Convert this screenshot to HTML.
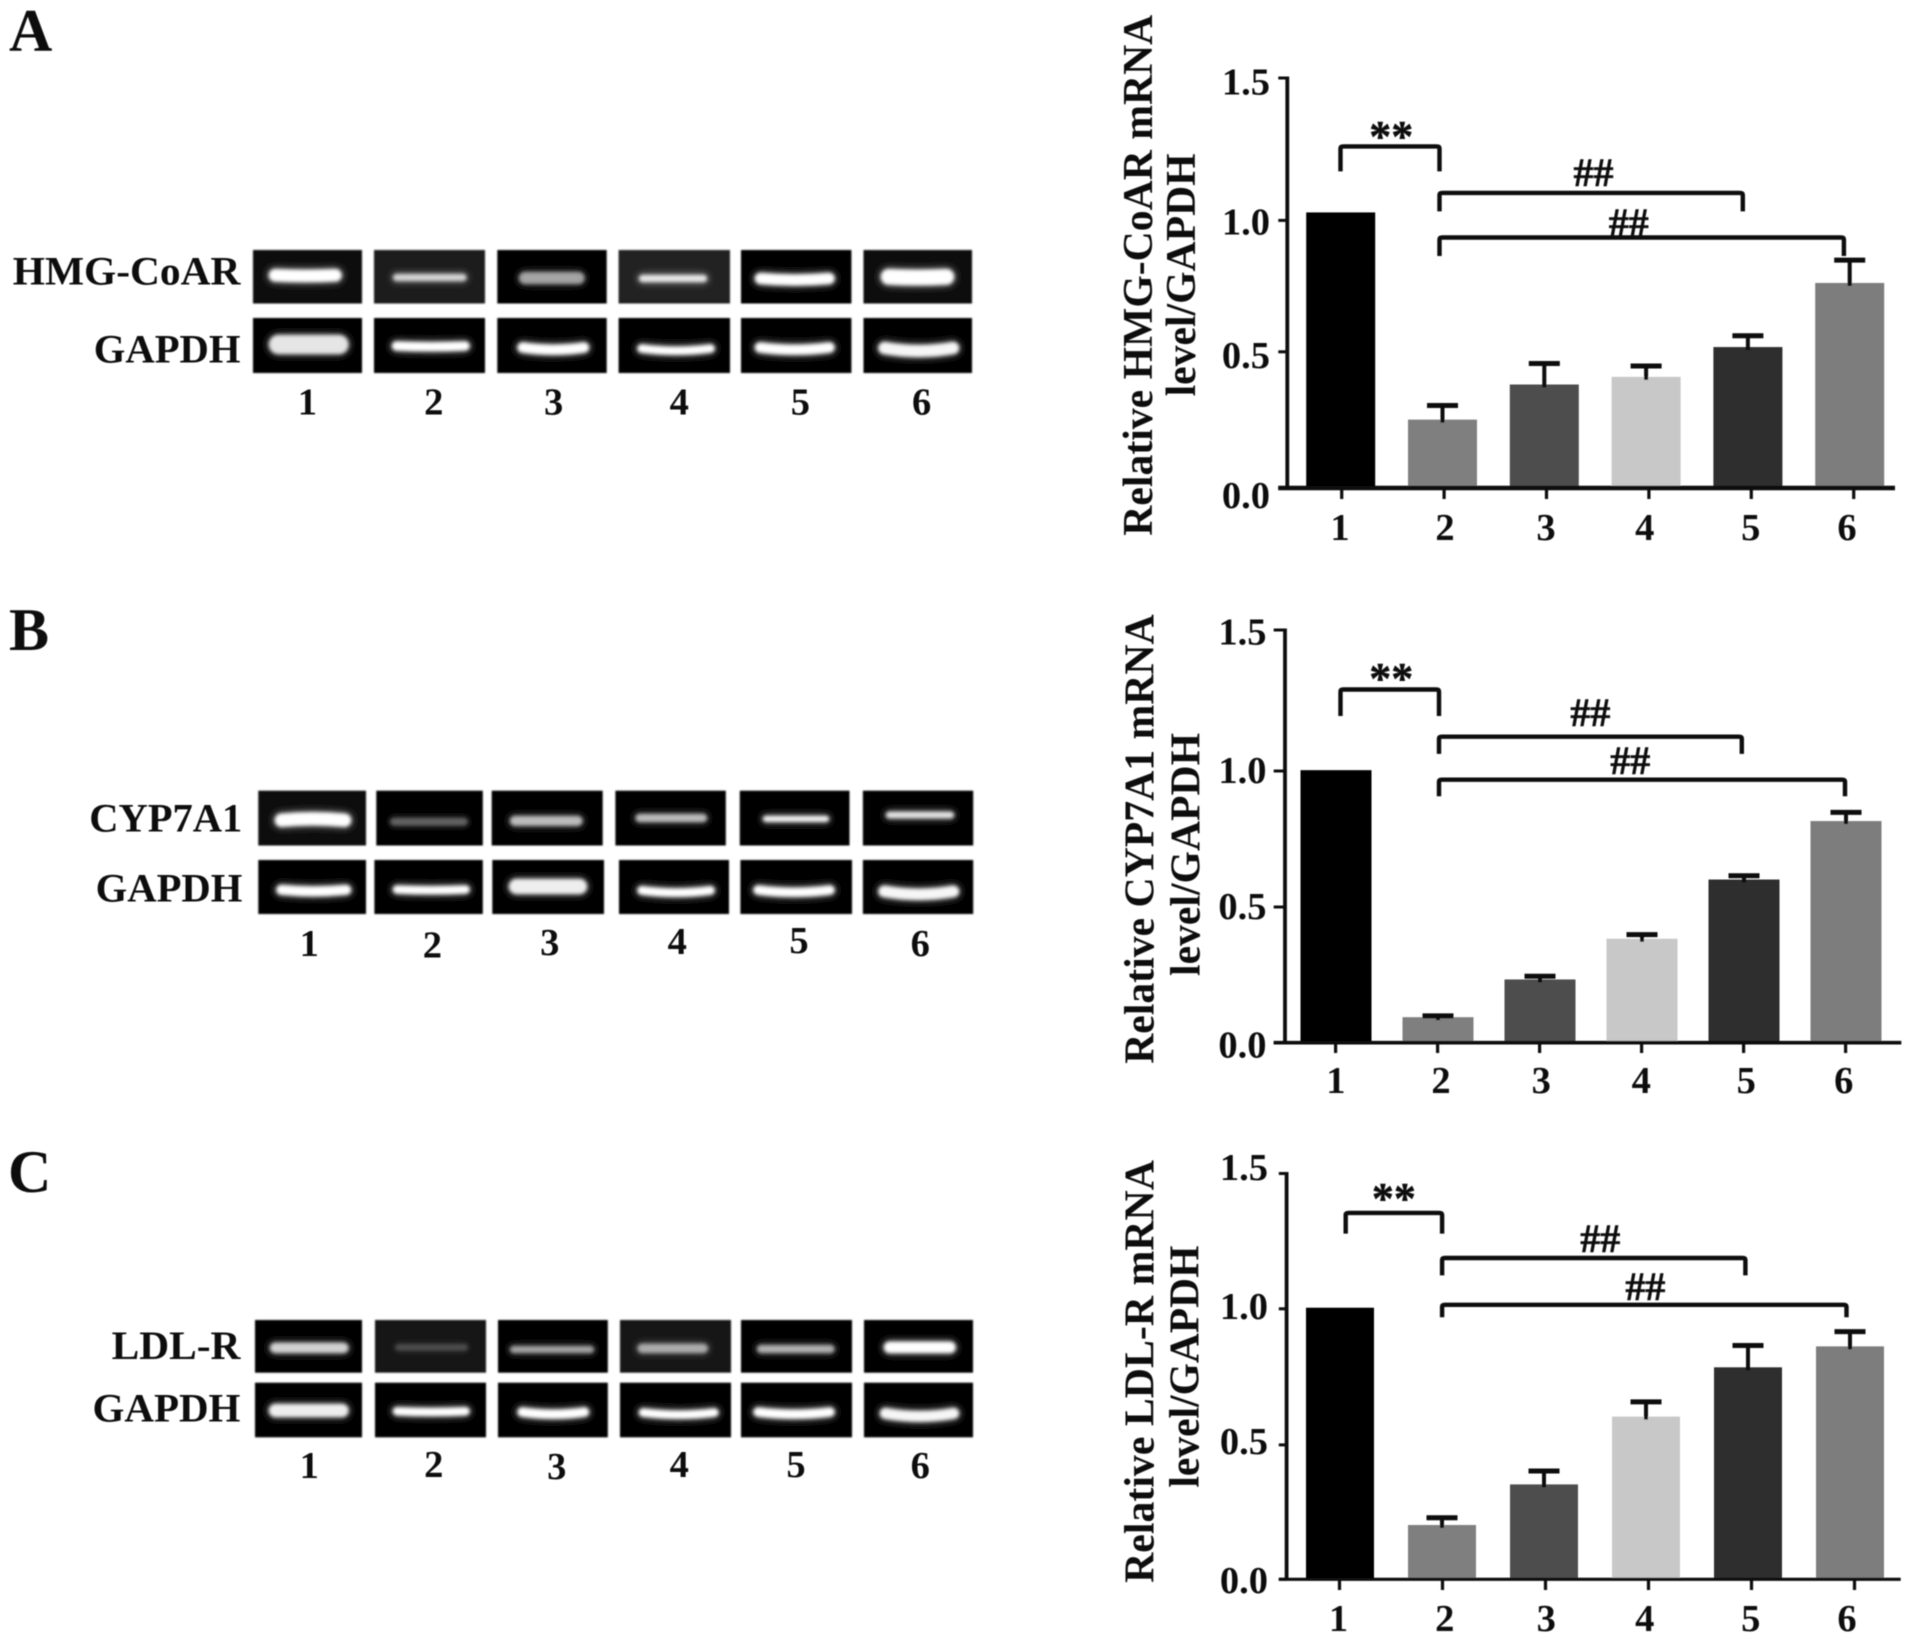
<!DOCTYPE html>
<html lang="en">
<head>
<meta charset="utf-8">
<title>Relative mRNA levels by gel electrophoresis</title>
<style>
  html, body { margin: 0; padding: 0; background: #fff; }
  svg { display: block; }
  text { font-family: "Liberation Serif", serif; font-weight: bold; fill: #0a0a0a; }
</style>
</head>
<body>
<svg id="figure" xmlns="http://www.w3.org/2000/svg" width="1913" height="1644" viewBox="0 0 1913 1644">
  <defs>
    <filter id="soft" filterUnits="userSpaceOnUse" x="0" y="0" width="1913" height="1644"><feGaussianBlur stdDeviation="0.6"/></filter>
    <filter id="gelEdge" filterUnits="userSpaceOnUse" x="0" y="0" width="1913" height="1644"><feGaussianBlur stdDeviation="0.8"/></filter>
    <filter id="bandCore" filterUnits="userSpaceOnUse" x="0" y="0" width="1913" height="1644"><feGaussianBlur stdDeviation="1.8"/></filter>
    <filter id="bandHalo" filterUnits="userSpaceOnUse" x="0" y="0" width="1913" height="1644"><feGaussianBlur stdDeviation="3.6"/></filter>
  </defs>
  <rect x="0" y="0" width="1913" height="1644" fill="#ffffff"/>
  <g id="root" filter="url(#soft)"></g>
</svg>
<script>
// ---- chart data ----
const categories = ['1', '2', '3', '4', '5', '6'];
const yTickValues = [0, 0.5, 1, 1.5];
const yTickLabels = ['0.0', '0.5', '1.0', '1.5'];
const hmgValues = [1.028, 0.251, 0.380, 0.408, 0.518, 0.762];
const hmgErrors = [0, 0.052, 0.077, 0.040, 0.043, 0.087];
const cypValues = [1.003, 0.094, 0.233, 0.383, 0.601, 0.816];
const cypErrors = [0, 0.005, 0.012, 0.015, 0.014, 0.032];
const ldlValues = [1.004, 0.202, 0.353, 0.604, 0.785, 0.862];
const ldlErrors = [0, 0.027, 0.050, 0.054, 0.080, 0.054];

// ---- layout and style ----
const barColors = ['#000000', '#7f7f7f', '#4d4d4d', '#c8c8c8', '#2f2f2f', '#7d7d7d'];
const NS = 'http://www.w3.org/2000/svg';
const root = document.getElementById('root');

function add(parent, tag, attrs, text) {
  const el = document.createElementNS(NS, tag);
  for (const k in attrs) el.setAttribute(k, attrs[k]);
  if (text !== undefined) el.textContent = text;
  parent.appendChild(el);
  return el;
}

const panels = [
  {
    key: 'hmg', values: hmgValues, errors: hmgErrors,
    yRange: [488, 351.8, 220.4, 78],
    axisX: 1287.3, axisLeft: 1278.3, axisRight: 1895, axisW: 4.5, tickBottom: 499,
    barStart: 1340.7, barStep: 101.8, barW: 69,
    tickStart: 1341.7, tickStep: 102.4,
    xLabelBase: 540, xLabelDx: [-1.7, 0.9, -0.5, -4.2, -0.6, -6.7],
    yLabelRight: 1270, yLabelDy: [20, 16, 14, 16.6],
    title1: 'Relative HMG-CoAR mRNA', t1x: 1151.8, t1y: 535.7, t1len: 521,
    title2: 'level/GAPDH', t2x: 1194.9, t2y: 396.4, t2len: 243,
    star: { l: 1340.5, r: 1439.5, top: 146.4, bot: 171.4, tx: 1391.3, ty: 151 },
    hash1: { l: 1439.5, r: 1742.8, top: 192.9, bot: 211.4, tx: 1593.5, ty: 186 },
    hash2: { l: 1439.5, r: 1843.9, top: 237.5, bot: 256, tx: 1628.8, ty: 236 }
  },
  {
    key: 'cyp', values: cypValues, errors: cypErrors,
    yRange: [1042.7, 907, 771, 630],
    axisX: 1285, axisLeft: 1273.7, axisRight: 1901.3, axisW: 3.6, tickBottom: 1053,
    barStart: 1336, barStep: 102, barW: 71,
    tickStart: 1335.6, tickStep: 102,
    xLabelBase: 1093, xLabelDx: [0.3, 3.4, 1.7, -0.3, 2.7, -1.9],
    yLabelRight: 1266.5, yLabelDy: [14.7, 12, 12, 14.7],
    title1: 'Relative CYP7A1 mRNA', t1x: 1153.4, t1y: 1063.8, t1len: 449.4,
    title2: 'level/GAPDH', t2x: 1199.5, t2y: 976, t2len: 243,
    star: { l: 1340.5, r: 1439, top: 689.5, bot: 716, tx: 1391.3, ty: 693 },
    hash1: { l: 1439, r: 1741.8, top: 736.7, bot: 753.9, tx: 1590.4, ty: 726 },
    hash2: { l: 1439, r: 1845, top: 779.7, bot: 796.3, tx: 1630.3, ty: 774 }
  },
  {
    key: 'ldl', values: ldlValues, errors: ldlErrors,
    yRange: [1579.3, 1444.9, 1308.8, 1173.5],
    axisX: 1286.6, axisLeft: 1278.8, axisRight: 1900.7, axisW: 3.2, tickBottom: 1590,
    barStart: 1340, barStep: 102, barW: 68,
    tickStart: 1339.5, tickStep: 103,
    xLabelBase: 1631, xLabelDx: [-1, 2.2, 0.8, -3.8, -0.8, -7.5],
    yLabelRight: 1268, yLabelDy: [13.7, 9.3, 10, 6.7],
    title1: 'Relative LDL-R mRNA', t1x: 1153.4, t1y: 1582.9, t1len: 422.8,
    title2: 'level/GAPDH', t2x: 1198.5, t2y: 1487.6, t2len: 242,
    star: { l: 1345.7, r: 1442.1, top: 1212.9, bot: 1233.6, tx: 1393.9, ty: 1213 },
    hash1: { l: 1442.1, r: 1745.4, top: 1258, bot: 1275.4, tx: 1600.3, ty: 1252 },
    hash2: { l: 1442.1, r: 1846.5, top: 1304.8, bot: 1317.2, tx: 1645.4, ty: 1300 }
  }
];

// Axis function: maps a value through the (slightly uneven) printed axis.
function makeY(range) {
  return function (v) {
    let s = 0;
    if (v > yTickValues[2]) s = 2; else if (v > yTickValues[1]) s = 1;
    const t = (v - yTickValues[s]) / (yTickValues[s + 1] - yTickValues[s]);
    return range[s] + t * (range[s + 1] - range[s]);
  };
}

function drawBracket(g, b, label, size, name) {
  const path = add(g, 'path', {
    d: 'M' + b.l + ' ' + b.bot + ' V' + (b.top + 2) + ' Q' + b.l + ' ' + b.top + ' ' + (b.l + 3) + ' ' + b.top +
       ' H' + (b.r - 3) + ' Q' + b.r + ' ' + b.top + ' ' + b.r + ' ' + (b.top + 2) + ' V' + b.bot,
    fill: 'none', stroke: '#0a0a0a', 'stroke-width': 4.4
  });
  
  
  const t = add(g, 'text', {
    x: b.tx, y: b.ty, 'font-size': size, 'text-anchor': 'middle', stroke: '#0a0a0a', 'stroke-width': 0.5
  }, label);
  
  
}

panels.forEach(function (p) {
  const y = makeY(p.yRange);
  const barX = function (i) { return p.barStart + i * p.barStep; };
  const tickX = function (i) { return p.tickStart + i * p.tickStep; };
  const g = add(root, 'g', {});
  
  

  categories.forEach(function (c, i) {
    const top = y(p.values[i]);
    const bar = add(g, 'rect', {
      x: barX(i) - p.barW / 2, y: top, width: p.barW, height: y(0) - top, fill: barColors[i]
    });
    
    
    if (p.errors[i] > 0) {
      const capY = y(p.values[i] + p.errors[i]);
      const stem = add(g, 'line', {
        x1: barX(i), x2: barX(i), y1: capY, y2: top + 3, stroke: '#0a0a0a', 'stroke-width': 4
      });
      
      
      const cap = add(g, 'line', {
        x1: barX(i) - 15.5, x2: barX(i) + 15.5, y1: capY, y2: capY, stroke: '#0a0a0a', 'stroke-width': 5
      });
      
      
    }
  });

  const yAxis = add(g, 'line', {
    x1: p.axisX, x2: p.axisX, y1: y(yTickValues[3]) - 1.5, y2: y(0), stroke: '#0a0a0a', 'stroke-width': 3.8
  });
  
  
  const xAxis = add(g, 'line', {
    x1: p.axisLeft, x2: p.axisRight, y1: y(0), y2: y(0), stroke: '#0a0a0a', 'stroke-width': p.axisW
  });
  
  

  yTickValues.forEach(function (v, i) {
    const tick = add(g, 'line', {
      x1: p.axisLeft, x2: p.axisX, y1: y(v), y2: y(v), stroke: '#0a0a0a', 'stroke-width': 3
    });
    
    
    const label = add(g, 'text', {
      x: p.yLabelRight, y: y(v) + p.yLabelDy[i], 'font-size': 38.5, 'text-anchor': 'end'
    }, yTickLabels[i]);
    
    
  });

  categories.forEach(function (c, i) {
    const tick = add(g, 'line', {
      x1: tickX(i), x2: tickX(i), y1: y(0), y2: p.tickBottom, stroke: '#0a0a0a', 'stroke-width': 3.2
    });
    
    
    const label = add(g, 'text', {
      x: tickX(i) + p.xLabelDx[i], y: p.xLabelBase, 'font-size': 38.5, 'text-anchor': 'middle'
    }, c);
    
    
  });

  const title1 = add(g, 'text', {
    x: p.t1x, y: p.t1y, 'font-size': 42, textLength: p.t1len, lengthAdjust: 'spacingAndGlyphs',
    transform: 'rotate(-90 ' + p.t1x + ' ' + p.t1y + ')'
  }, p.title1);
  
  
  const title2 = add(g, 'text', {
    x: p.t2x, y: p.t2y, 'font-size': 42, textLength: p.t2len, lengthAdjust: 'spacingAndGlyphs',
    transform: 'rotate(-90 ' + p.t2x + ' ' + p.t2y + ')'
  }, p.title2);
  
  

  drawBracket(g, p.star, '**', 44, p.key + '-significance-1-vs-2');
  drawBracket(g, p.hash1, '##', 40, p.key + '-significance-2-vs-5');
  drawBracket(g, p.hash2, '##', 40, p.key + '-significance-2-vs-6');
});

// ---- gel images (drawn, not measured data) ----
// lane: [gelX1, gelX2, bandX1, bandX2, bandY1, bandY2, brightness, background, curve]
const gelRows = [
  { name: 'hmg-coar-gel', y1: 250, y2: 303.5, lanes: [
    [253, 362, 268, 342.5, 268.6, 282.9, 1, '#0b0b0b', 1],
    [374, 485, 392, 467.5, 273, 282, 0.75, '#1f1f1f', 0],
    [497.3, 606.7, 518, 585.5, 271, 285, 0.55, '#060606', 0],
    [618.6, 730, 638, 708, 274, 283, 0.85, '#202020', 0],
    [741, 851.4, 754, 835.5, 273, 286, 1, '#050505', 2],
    [863.5, 972, 880, 955, 268.6, 286, 1, '#0a0a0a', 1]
  ]},
  { name: 'hmg-gapdh-gel', y1: 318, y2: 373, lanes: [
    [253, 362, 268, 349.5, 334, 355, 0.85, '#060606', 0],
    [374, 485, 391, 470.6, 341, 352, 1, '#030303', 1],
    [497.3, 606.7, 516.6, 590, 343, 355, 1, '#030303', 3],
    [618.6, 730, 636.5, 715.6, 345, 355, 1, '#030303', 3],
    [741, 851.4, 754, 835.5, 343, 355, 1, '#030303', 3],
    [863.5, 972, 877.5, 960, 343, 357, 0.95, '#030303', 4]
  ]},
  { name: 'cyp7a1-gel', y1: 790.7, y2: 845.5, lanes: [
    [258.3, 366, 274, 352, 811.7, 826.7, 1, '#0c0c0c', -2],
    [376.3, 482.8, 389, 469, 816.7, 826.7, 0.3, '#050505', 0],
    [491.7, 602.7, 509, 583.5, 815, 826.7, 0.65, '#060606', 0],
    [615.4, 725.8, 634.6, 708, 813, 823, 0.65, '#050505', 0],
    [739.8, 849.5, 762, 830, 815, 822.7, 0.95, '#030303', 0],
    [862.9, 973.2, 885, 955, 810.7, 819.3, 0.85, '#030303', 0]
  ]},
  { name: 'cyp-gapdh-gel', y1: 860, y2: 914, lanes: [
    [258.3, 366, 275.5, 352, 885, 896.7, 1, '#030303', 2],
    [374.4, 482.8, 392, 470.6, 885, 895, 1, '#020202', 1],
    [492.3, 604, 508, 588, 878, 895, 0.9, '#040404', 0],
    [619, 729, 636.5, 715.6, 886.7, 897, 1, '#020202', 3],
    [740.4, 852, 752.6, 835.5, 886, 897, 1, '#020202', 3],
    [862.9, 973.2, 877.5, 960, 886.7, 900, 0.95, '#020202', 4]
  ]},
  { name: 'ldl-r-gel', y1: 1320, y2: 1372.7, lanes: [
    [255, 362, 269, 349.5, 1341.7, 1354, 0.75, '#050505', 0],
    [375, 486, 394, 469, 1343, 1351.7, 0.18, '#161616', 0],
    [498, 607.8, 509, 595, 1345, 1354, 0.55, '#050505', 0],
    [620, 731, 636.5, 709, 1342.7, 1354, 0.55, '#161616', 0],
    [741, 852, 756, 835.5, 1344, 1354, 0.6, '#050505', 0],
    [864, 973, 883, 956.6, 1340.7, 1354, 1, '#050505', 0]
  ]},
  { name: 'ldl-gapdh-gel', y1: 1382.7, y2: 1437.3, lanes: [
    [255, 362, 268, 349.5, 1403, 1418, 0.9, '#050505', 0],
    [375, 486, 392, 470.6, 1406.7, 1416.7, 1, '#020202', 1],
    [498, 607.8, 516.6, 590, 1408, 1419, 1, '#020202', 3],
    [620, 731, 638, 719.4, 1409, 1419, 1, '#020202', 3],
    [741, 852, 752.6, 835.5, 1408, 1419, 1, '#020202', 3],
    [864, 973, 879, 960, 1409, 1421.7, 0.95, '#020202', 4]
  ]}
];

gelRows.forEach(function (row) {
  const g = add(root, 'g', {});
  
  
  row.lanes.forEach(function (l, i) {
    const lane = add(g, 'rect', {
      x: l[0], y: row.y1, width: l[1] - l[0], height: row.y2 - row.y1, fill: l[7], filter: 'url(#gelEdge)'
    });
    
    
    const h = l[5] - l[4];
    const cy = (l[4] + l[5]) / 2;
    const d = 'M' + (l[2] + h / 2) + ' ' + (cy - l[8] / 2) + ' Q' + ((l[2] + l[3]) / 2) + ' ' + (cy + l[8]) + ' ' + (l[3] - h / 2) + ' ' + (cy - l[8] / 2);
    const halo = add(g, 'path', {
      d: d, fill: 'none', stroke: '#fff', 'stroke-width': h + 2, 'stroke-linecap': 'round',
      opacity: l[6] * 0.4, filter: 'url(#bandHalo)'
    });
    
    
    const core = add(g, 'path', {
      d: d, fill: 'none', stroke: '#fff', 'stroke-width': Math.max(h - 2, 4), 'stroke-linecap': 'round',
      opacity: l[6], filter: 'url(#bandCore)'
    });
    
    
  });
});
</script>
<svg style="position:absolute;left:0;top:0" xmlns="http://www.w3.org/2000/svg" width="1913" height="1644" viewBox="0 0 1913 1644">
  <g filter="url(#soft)">
    <text x="9" y="50.7" font-size="60">A</text>
    <text x="9" y="650" font-size="60">B</text>
    <text x="8" y="1192" font-size="60">C</text>

    <text x="12.8" y="284.6" font-size="40" textLength="227.6" lengthAdjust="spacingAndGlyphs">HMG-CoAR</text>
    <text x="93.8" y="362.5" font-size="40" textLength="146.6" lengthAdjust="spacingAndGlyphs">GAPDH</text>
    <text x="89.3" y="831.7" font-size="40" textLength="153" lengthAdjust="spacingAndGlyphs">CYP7A1</text>
    <text x="95.7" y="901.5" font-size="40" textLength="146.6" lengthAdjust="spacingAndGlyphs">GAPDH</text>
    <text x="111.6" y="1359" font-size="40" textLength="128.8" lengthAdjust="spacingAndGlyphs">LDL-R</text>
    <text x="92.5" y="1421.5" font-size="40" textLength="147.9" lengthAdjust="spacingAndGlyphs">GAPDH</text>

    <g text-anchor="middle" font-size="38.5">
      <text x="307.4" y="414.3">1</text>
      <text x="433.7" y="414.3">2</text>
      <text x="553.6" y="414.3">3</text>
      <text x="679.2" y="414.3">4</text>
      <text x="800.4" y="414.3">5</text>
      <text x="921.6" y="414.3">6</text>
    </g>
    <g text-anchor="middle" font-size="38.5">
      <text x="309.3" y="956">1</text>
      <text x="432.4" y="957.3">2</text>
      <text x="549.7" y="955">3</text>
      <text x="677.3" y="954">4</text>
      <text x="799" y="953">5</text>
      <text x="920.3" y="956">6</text>
    </g>
    <g text-anchor="middle" font-size="38.5">
      <text x="309.3" y="1478">1</text>
      <text x="433.7" y="1477">2</text>
      <text x="556.8" y="1479">3</text>
      <text x="679.2" y="1477">4</text>
      <text x="796" y="1477">5</text>
      <text x="920.3" y="1478">6</text>
    </g>
  </g>
</svg>
</body>
</html>
